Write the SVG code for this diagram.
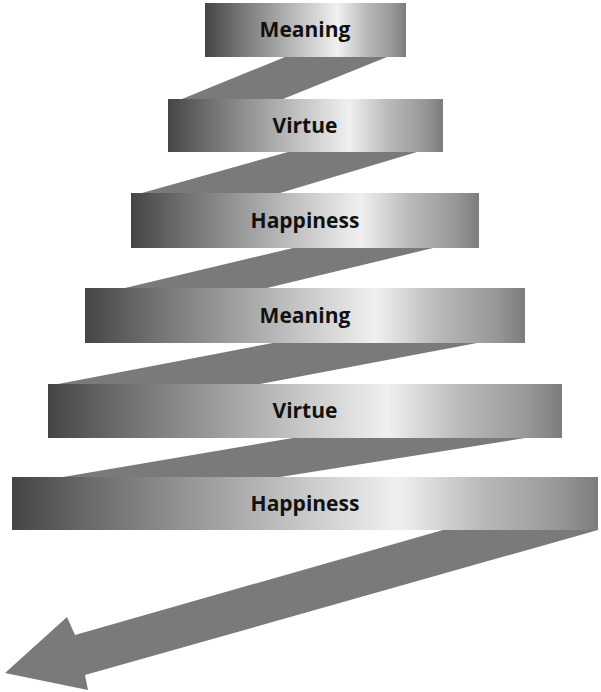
<svg xmlns="http://www.w3.org/2000/svg" width="601" height="692" viewBox="0 0 601 692">
  <defs>
    <linearGradient id="band" x1="0" y1="0" x2="1" y2="0">
      <stop offset="0" stop-color="#454545"/>
      <stop offset="0.15" stop-color="#6f6f6f"/>
      <stop offset="0.32" stop-color="#9a9a9a"/>
      <stop offset="0.49" stop-color="#c6c6c6"/>
      <stop offset="0.66" stop-color="#f0f0f0"/>
      <stop offset="0.8" stop-color="#bababa"/>
      <stop offset="0.935" stop-color="#979797"/>
      <stop offset="1" stop-color="#7c7c7c"/>
    </linearGradient>
  </defs>
  <style>
    .band { fill: url(#band); }
    .conn { fill: #7a7a7a; stroke: none; }
    .label { font-family: "Open Sans", "Liberation Sans", sans-serif; font-weight: 700; font-size: 21px; fill: #111111; text-anchor: middle; }
  </style>
  <g id="connectors">
    <polygon class="conn" points="285,57 387,57 283,99 182,99"/>
    <polygon class="conn" points="288,152 417,152 280,193 142,193"/>
    <polygon class="conn" points="293,248 433,248 267,288 125,288"/>
    <polygon class="conn" points="273,343 477,343 260,384 58,384"/>
    <polygon class="conn" points="293,438 525,438 280,477 63,477"/>
    <polygon class="conn" points="443,530 598,530 85,675 88,690 5,673 67,617 75,635"/>
  </g>
  <g id="meaning1">
    <rect class="band" x="205" y="3" width="201" height="54"/>
    <text class="label" x="305" y="37">Meaning</text>
  </g>
  <g id="virtue1">
    <rect class="band" x="168" y="99" width="275" height="53"/>
    <text class="label" x="305" y="133">Virtue</text>
  </g>
  <g id="happiness1">
    <rect class="band" x="131" y="193" width="348" height="55"/>
    <text class="label" x="305" y="228">Happiness</text>
  </g>
  <g id="meaning2">
    <rect class="band" x="85" y="288" width="440" height="55"/>
    <text class="label" x="305" y="323">Meaning</text>
  </g>
  <g id="virtue2">
    <rect class="band" x="48" y="384" width="514" height="54"/>
    <text class="label" x="305" y="418">Virtue</text>
  </g>
  <g id="happiness2">
    <rect class="band" x="12" y="477" width="586" height="53"/>
    <text class="label" x="305" y="511">Happiness</text>
  </g>
</svg>
